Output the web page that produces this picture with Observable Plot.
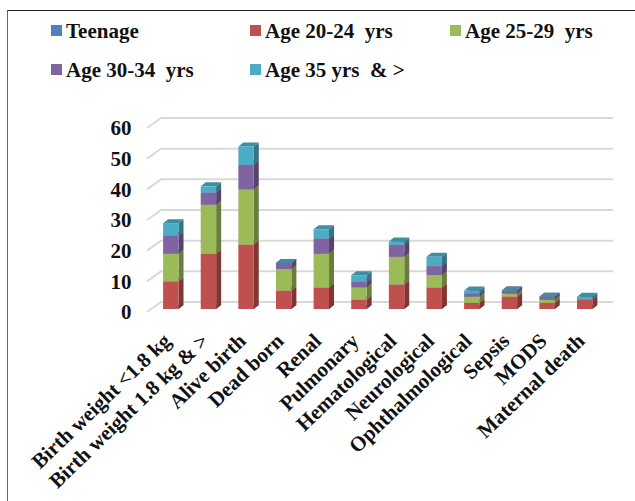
<!DOCTYPE html>
<html>
<head>
<meta charset="utf-8">
<script src="https://cdn.jsdelivr.net/npm/d3@7"></script>
<script src="https://cdn.jsdelivr.net/npm/@observablehq/plot@0.6"></script>
<style>
  html, body { margin: 0; padding: 0; background: #fff; }
  #page { position: relative; width: 635px; height: 501px; overflow: hidden; }
  #border { position: absolute; left: 7px; top: 10px; right: -2px; bottom: -2px; border: 1px solid #222; border-left-color: #666; }
  #legend { position: relative; height: 100px; font: bold 21px "Liberation Serif", serif; color: #111; }
  #legend div { position: absolute; white-space: pre; line-height: 22px; }
  #legend i { position: absolute; left: -15px; top: 5px; width: 11px; height: 11px; }
  svg { display: block; position: relative; }
</style>
</head>
<body>
<div id="page">
  <div id="border"></div>
  <div id="legend"></div>
  <div id="chart"></div>
</div>
<script>
// Cases per outcome, split by maternal age group
const categories = ["Birth weight <1.8 kg", "Birth weight 1.8 kg & >", "Alive birth", "Dead born", "Renal", "Pulmonary", "Hematological", "Neurological", "Ophthalmological", "Sepsis", "MODS", "Maternal death"];
const ageGroups = ["Teenage", "Age 20-24  yrs", "Age 25-29  yrs", "Age 30-34  yrs", "Age 35 yrs  & >"];
const colours = ["#4f81bd", "#c0504d", "#9bbb59", "#8064a2", "#4bacc6"];
const teenage = [0, 0, 0, 0, 0, 0, 0, 0, 0, 0, 0, 0];
const age20to24 = [9, 18, 21, 6, 7, 3, 8, 7, 2, 4, 2, 3];
const age25to29 = [9, 16, 18, 7, 11, 4, 9, 4, 2, 1, 1, 0];
const age30to34 = [6, 4, 8, 2, 5, 2, 4, 3, 1, 1, 1, 0];
const age35up = [4, 2, 6, 0, 3, 2, 1, 3, 1, 0, 0, 1];
const yTicks = [0, 10, 20, 30, 40, 50, 60];

const seriesValues = [teenage, age20to24, age25to29, age30to34, age35up];
const rows = ageGroups.flatMap((group, s) =>
  categories.map((category, c) => ({category, group, value: seriesValues[s][c]})));

// Legend rows sit above the plot
const legendSpots = [[66, 20], [265, 20], [465, 20], [66, 59], [265, 59]];
const legend = d3.select("#legend");
ageGroups.forEach((g, i) => {
  const d = legend.append("div")
    .style("left", legendSpots[i][0] + "px")
    .style("top", legendSpots[i][1] + "px")
    .text(g);
  d.append("i").style("background", colours[i]);
});

const svgNS = "http://www.w3.org/2000/svg";
const depth = {dx: 5, dy: -4};     // column depth
const wall = {dx: 14, dy: -7, front: 3};  // wall offset of the gridlines

function polygon(parent, points, fill) {
  const p = document.createElementNS(svgNS, "polygon");
  p.setAttribute("points", points.map((q) => q.join(",")).join(" "));
  p.setAttribute("fill", fill);
  parent.appendChild(p);
}

// Gridlines run along the floor edge, then across the back wall
function renderGrid(index, scales, values, dimensions) {
  const g = document.createElementNS(svgNS, "g");
  const x0 = dimensions.marginLeft - 5;
  const x1 = dimensions.width - 22;
  for (const i of index) {
    const y = values.y[i];
    const p = document.createElementNS(svgNS, "polyline");
    p.setAttribute("points", `${x0},${y + wall.front} ${x0 + wall.dx},${y + wall.dy} ${x1},${y + wall.dy}`);
    p.setAttribute("fill", "none");
    p.setAttribute("stroke", "#d9d9d9");
    p.setAttribute("stroke-width", 2);
    g.appendChild(p);
  }
  return g;
}

// Adds the side and top faces of each stacked segment to the bar mark
function renderColumns(index, scales, values, dimensions, context, next) {
  const g = document.createElementNS(svgNS, "g");
  const w = scales.x.bandwidth();
  const {dx, dy} = depth;
  for (const i of index) {
    const x = values.x[i];
    const yBottom = Math.max(values.y1[i], values.y2[i]);
    const yTop = Math.min(values.y1[i], values.y2[i]);
    const fill = values.fill ? values.fill[i] : scales.color(rows[i].group);
    const side = d3.color(fill).darker(1.1).formatHex();
    const top = d3.color(fill).darker(0.55).formatHex();
    polygon(g, [[x + w, yBottom], [x + w + dx, yBottom + dy], [x + w + dx, yTop + dy], [x + w, yTop]], side);
    polygon(g, [[x, yTop], [x + dx, yTop + dy], [x + w + dx, yTop + dy], [x + w, yTop]], top);
    const r = document.createElementNS(svgNS, "rect");
    r.setAttribute("x", x);
    r.setAttribute("y", yTop);
    r.setAttribute("width", w);
    r.setAttribute("height", yBottom - yTop);
    r.setAttribute("fill", fill);
    g.appendChild(r);
  }
  return g;
}

const chart = Plot.plot({
  width: 635,
  height: 401,
  marginLeft: 152,
  marginRight: 31.5,
  marginTop: 25,
  marginBottom: 192,
  style: {background: "transparent", overflow: "visible"},
  x: {domain: categories, paddingInner: 0.59, paddingOuter: 0.295, round: false, label: null},
  y: {domain: [0, 60], label: null},
  color: {domain: ageGroups, range: colours},
  marks: [
    Plot.ruleY(yTicks, {render: renderGrid}),
    Plot.barY(rows, {
      x: "category", y: "value", z: "group", fill: "group", order: ageGroups,
      render: renderColumns
    }),
    Plot.axisY({
      ticks: yTicks, tickSize: 0, tickPadding: 0, dx: -21, dy: 3, label: null,
      fontFamily: "Liberation Serif", fontWeight: "bold", fontSize: 21, fill: "#111"
    }),
    Plot.axisX({
      tickSize: 0, tickRotate: -44, tickPadding: 28, dx: -4, label: null, textOverflow: null,
      fontFamily: "Liberation Serif", fontWeight: "bold", fontSize: 21, fill: "#111"
    })
  ]
});
document.getElementById("chart").appendChild(chart);
</script>
</body>
</html>
